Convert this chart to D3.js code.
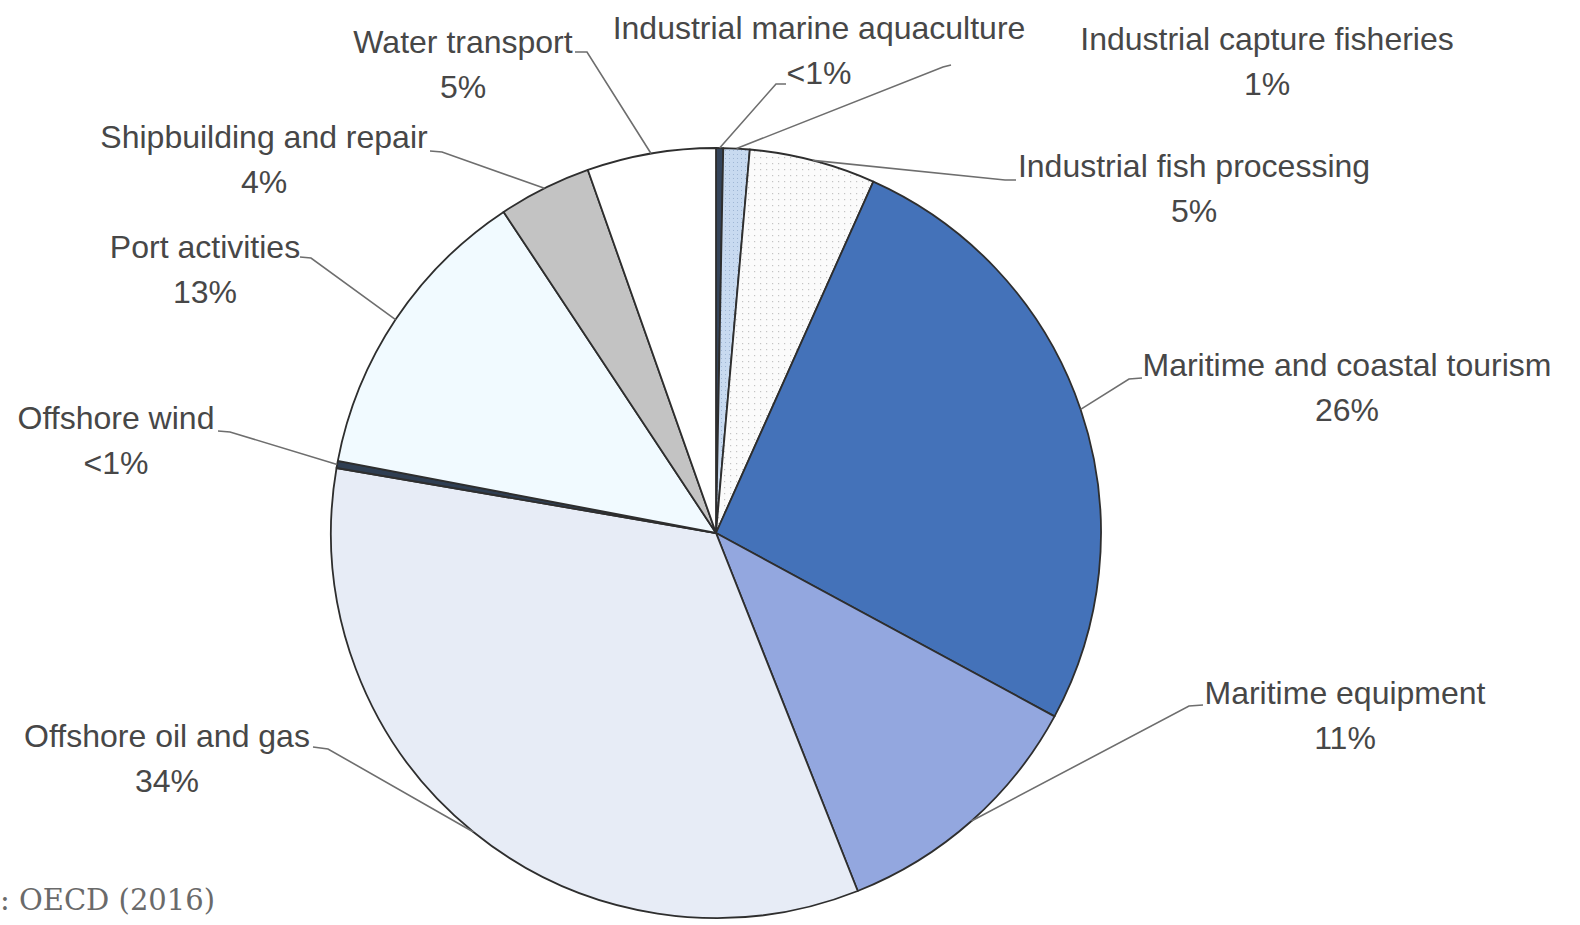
<!DOCTYPE html>
<html>
<head>
<meta charset="utf-8">
<script src="https://cdn.jsdelivr.net/npm/d3@7/dist/d3.min.js"></script>
<style>
  html, body { margin: 0; padding: 0; background: #ffffff; }
  svg { display: block; }
</style>
</head>
<body>
<svg id="chart" width="1580" height="925"></svg>
<script>
// Ocean economy value added by sector, share of total (%)
const sectors = [
  "Industrial marine aquaculture",
  "Industrial capture fisheries",
  "Industrial fish processing",
  "Maritime and coastal tourism",
  "Maritime equipment",
  "Offshore oil and gas",
  "Offshore wind",
  "Port activities",
  "Shipbuilding and repair",
  "Water transport"
];
const shares = [0.3, 1.1, 5.3, 26.2, 11.1, 33.7, 0.3, 12.7, 3.9, 5.4];
const sourceNote = ": OECD (2016)";

// Slice fills, in sector order
const fills = [
  "#34445a", "url(#fisheriesDots)", "url(#processingDots)", "#4472b9", "#93a7df",
  "#e7ecf6", "#2f3e52", "#f1faff", "#c3c3c3", "#ffffff"
];

// Label placement: centre x, first baseline y, and leader start/elbow points
const labelLayout = [
  { x: 819,  y: 39,  leader: [[786, 84], [776, 84]] },
  { x: 1267, y: 50,  leader: [[951, 65], [943, 67]] },
  { x: 1194, y: 177, leader: [[1016, 180], [1005, 180]] },
  { x: 1347, y: 376, leader: [[1142, 378], [1129, 379]] },
  { x: 1345, y: 704, leader: [[1203, 705], [1189, 706]] },
  { x: 167,  y: 747, leader: [[313, 747], [328, 749]] },
  { x: 116,  y: 429, leader: [[218, 431], [230, 432]] },
  { x: 205,  y: 258, leader: [[300, 257], [311, 258]] },
  { x: 264,  y: 148, leader: [[430, 151], [442, 152]] },
  { x: 463,  y: 53,  leader: [[575, 52], [587, 52]] }
];

const cx = 716, cy = 533, radius = 385;
const lineGap = 45;

const svg = d3.select("#chart");
const defs = svg.append("defs");

// Dotted fills for the two fishery slices
const p1 = defs.append("pattern").attr("id", "fisheriesDots")
  .attr("width", 4).attr("height", 4).attr("patternUnits", "userSpaceOnUse");
p1.append("rect").attr("width", 4).attr("height", 4).attr("fill", "#c8daf0");
p1.append("rect").attr("x", 1).attr("y", 1).attr("width", 1).attr("height", 1).attr("fill", "#9fb6d4");

const p2 = defs.append("pattern").attr("id", "processingDots")
  .attr("width", 6).attr("height", 6).attr("patternUnits", "userSpaceOnUse");
p2.append("rect").attr("width", 6).attr("height", 6).attr("fill", "#fbfbfb");
p2.append("rect").attr("x", 2).attr("y", 2).attr("width", 1.2).attr("height", 1.2).attr("fill", "#c4c4c4");

const data = sectors.map((name, i) => ({ name, value: shares[i], fill: fills[i], layout: labelLayout[i] }));

const pie = d3.pie().sort(null).value(d => d.value).startAngle(0).endAngle(2 * Math.PI);
const arcs = pie(data);

const arc = d3.arc().innerRadius(0).outerRadius(radius);
const rim = d3.arc().innerRadius(radius).outerRadius(radius);

const g = svg.append("g").attr("transform", `translate(${cx},${cy})`);

g.selectAll("path.slice")
  .data(arcs)
  .join("path")
  .attr("class", "slice")
  .attr("d", arc)
  .attr("fill", d => d.data.fill)
  .attr("stroke", "#2e2e2e")
  .attr("stroke-width", 1.8)
  .attr("stroke-linejoin", "round");

// Leader lines: from label elbow to the middle of each slice's outer arc
const line = d3.line();
svg.append("g").selectAll("path.leader")
  .data(arcs)
  .join("path")
  .attr("class", "leader")
  .attr("d", d => {
    const [mx, my] = rim.centroid(d);
    return line([...d.data.layout.leader, [cx + mx, cy + my]]);
  })
  .attr("fill", "none")
  .attr("stroke", "#6e6e6e")
  .attr("stroke-width", 1.6);

const fmtPct = v => v < 1 ? "<1%" : d3.format(".0f")(v) + "%";

const labels = svg.append("g")
  .attr("font-family", "'Liberation Sans', Arial, sans-serif")
  .attr("font-size", 32)
  .attr("fill", "#474747")
  .attr("text-anchor", "middle");

const lab = labels.selectAll("text")
  .data(arcs)
  .join("text")
  .attr("x", d => d.data.layout.x)
  .attr("y", d => d.data.layout.y);
lab.append("tspan").attr("x", d => d.data.layout.x).text(d => d.data.name);
lab.append("tspan").attr("x", d => d.data.layout.x).attr("dy", lineGap).text(d => fmtPct(d.data.value));

svg.append("text")
  .attr("x", 0)
  .attr("y", 910)
  .attr("font-family", "'DejaVu Serif', Georgia, serif")
  .attr("font-size", 29)
  .attr("fill", "#6a6a6a")
  .text(sourceNote);
</script>
</body>
</html>
